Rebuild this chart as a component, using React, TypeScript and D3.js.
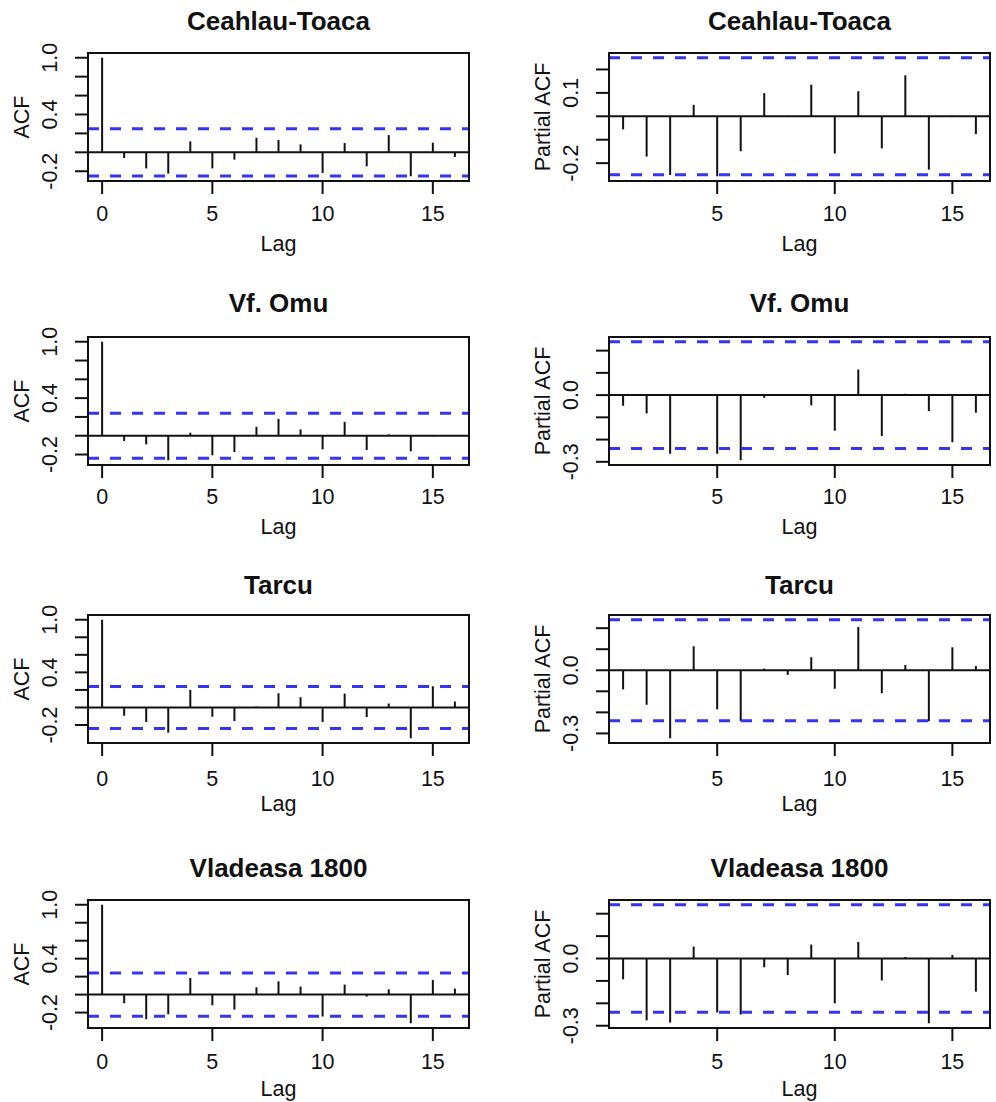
import * as d3 from 'd3';
import { useEffect, useRef } from 'react';

const WIDTH = 996, HEIGHT = 1102;

const stations = ['Ceahlau-Toaca', 'Vf. Omu', 'Tarcu', 'Vladeasa 1800'];

// ACF, lags 0..16
const acfCeahlau = [1.0, -0.06, -0.17, -0.225, 0.116, -0.17, -0.077, 0.154, 0.13, 0.084, -0.218, 0.098, -0.147, 0.182, -0.253, 0.102, -0.049];
const acfOmu = [1.0, -0.057, -0.092, -0.261, 0.032, -0.208, -0.173, 0.095, 0.18, 0.067, -0.145, 0.148, -0.152, 0.014, -0.166, -0.005, 0.003];
const acfTarcu = [1.0, -0.094, -0.166, -0.287, 0.2, -0.106, -0.155, 0.01, 0.162, 0.117, -0.166, 0.158, -0.109, 0.045, -0.351, 0.242, 0.068];
const acfVladeasa = [1.0, -0.096, -0.274, -0.219, 0.185, -0.119, -0.167, 0.081, 0.148, 0.089, -0.244, 0.111, -0.022, 0.059, -0.319, 0.163, 0.067];

// PACF, lags 1..16
const pacfCeahlau = [-0.056, -0.172, -0.251, 0.049, -0.256, -0.149, 0.099, 0.002, 0.135, -0.159, 0.107, -0.137, 0.175, -0.228, 0.003, -0.076];
const pacfOmu = [-0.048, -0.082, -0.264, -0.004, -0.264, -0.293, -0.012, -0.002, -0.046, -0.16, 0.115, -0.184, 0.006, -0.072, -0.212, -0.079];
const pacfTarcu = [-0.091, -0.164, -0.323, 0.114, -0.186, -0.242, 0.008, -0.022, 0.062, -0.088, 0.206, -0.109, 0.025, -0.242, 0.109, 0.02];
const pacfVladeasa = [-0.093, -0.276, -0.286, 0.053, -0.241, -0.25, -0.039, -0.074, 0.062, -0.2, 0.074, -0.098, 0.007, -0.289, 0.016, -0.148];

const acfSeries = [acfCeahlau, acfOmu, acfTarcu, acfVladeasa];
const pacfSeries = [pacfCeahlau, pacfOmu, pacfTarcu, pacfVladeasa];

// significance bounds (blue dashed)
const confLimits = [0.25, 0.24, 0.24, 0.24];

const lagTicks = [0, 5, 10, 15];
const acfTicks = [-0.2, 0, 0.2, 0.4, 0.6, 0.8, 1.0];
const acfLabels = [-0.2, 0.4, 1.0];
const pacfTicksFirst = [-0.2, -0.1, 0, 0.1, 0.2];
const pacfLabelsFirst = [-0.2, 0.1];
const pacfTicks = [-0.3, -0.2, -0.1, 0, 0.1, 0.2];
const pacfLabels = [-0.3, 0.0];

// layout
const ACF_LEFT = 88, PACF_LEFT = 609, BOX_W = 381, BOX_H = 128;
const rowTop = [53, 337, 615, 900];
const titleY = [21, 303, 585, 868];
const tickLabelY = [213, 496, 778, 1061];
const lagLabelY = [243, 526, 803, 1088];

const FONT = '"Liberation Sans", Arial, Helvetica, sans-serif';
const INK = '#111';
const BLUE = '#3434f2';

const drawPanel = (svg, opts) => {
    const { left, top, row, values, startLag, clim, ticks, labels, yLabel, title } = opts;
    const xPad = 0.04 * (16 - startLag);
    const x = d3.scaleLinear().domain([startLag - xPad, 16 + xPad]).range([left, left + BOX_W]);

    const lo = Math.min(-clim, d3.min(values));
    const hi = Math.max(clim, d3.max(values));
    const yPad = 0.04 * (hi - lo);
    const y = d3.scaleLinear().domain([lo - yPad, hi + yPad]).range([top + BOX_H, top]);

    const g = svg.append('g').attr('class', 'panel');

    // lag bars
    g.selectAll('line.bar')
        .data(values)
        .enter()
        .append('line')
        .attr('class', 'bar')
        .attr('x1', (d, i) => x(i + startLag))
        .attr('x2', (d, i) => x(i + startLag))
        .attr('y1', y(0))
        .attr('y2', d => y(d))
        .attr('stroke', INK)
        .attr('stroke-width', 2);

    // zero line
    g.append('line')
        .attr('x1', left).attr('x2', left + BOX_W)
        .attr('y1', y(0)).attr('y2', y(0))
        .attr('stroke', INK).attr('stroke-width', 2);

    // confidence bounds
    g.selectAll('line.conf')
        .data([clim, -clim])
        .enter()
        .append('line')
        .attr('class', 'conf')
        .attr('x1', left).attr('x2', left + BOX_W)
        .attr('y1', d => y(d)).attr('y2', d => y(d))
        .attr('stroke', BLUE).attr('stroke-width', 3)
        .attr('stroke-dasharray', '11 11');

    // box
    g.append('rect')
        .attr('x', left).attr('y', top)
        .attr('width', BOX_W).attr('height', BOX_H)
        .attr('fill', 'none').attr('stroke', INK).attr('stroke-width', 2);

    // x axis
    const xt = lagTicks.filter(t => t >= x.domain()[0] && t <= x.domain()[1]);
    g.selectAll('line.xtick')
        .data(xt)
        .enter()
        .append('line')
        .attr('x1', d => x(d)).attr('x2', d => x(d))
        .attr('y1', top + BOX_H).attr('y2', top + BOX_H + 13)
        .attr('stroke', INK).attr('stroke-width', 2);
    g.selectAll('text.xlab')
        .data(xt)
        .enter()
        .append('text')
        .attr('x', d => x(d)).attr('y', tickLabelY[row])
        .attr('dy', '0.36em')
        .attr('text-anchor', 'middle')
        .attr('font-size', 21.5)
        .attr('fill', INK)
        .text(d => String(d));
    g.append('text')
        .attr('x', left + BOX_W / 2).attr('y', lagLabelY[row])
        .attr('dy', '0.36em')
        .attr('text-anchor', 'middle')
        .attr('font-size', 21.5)
        .attr('fill', INK)
        .text('Lag');

    // y axis
    g.selectAll('line.ytick')
        .data(ticks)
        .enter()
        .append('line')
        .attr('x1', left - 13).attr('x2', left)
        .attr('y1', d => y(d)).attr('y2', d => y(d))
        .attr('stroke', INK).attr('stroke-width', 2);
    g.selectAll('text.ylab')
        .data(labels)
        .enter()
        .append('text')
        .attr('transform', d => `translate(${left - 39},${y(d)}) rotate(-90)`)
        .attr('dy', '0.36em')
        .attr('text-anchor', 'middle')
        .attr('font-size', 21.5)
        .attr('fill', INK)
        .text(d => d.toFixed(1));
    g.append('text')
        .attr('transform', `translate(${left - 67},${top + BOX_H / 2}) rotate(-90)`)
        .attr('dy', '0.36em')
        .attr('text-anchor', 'middle')
        .attr('font-size', 21.5)
        .attr('fill', INK)
        .text(yLabel);

    // title
    g.append('text')
        .attr('x', left + BOX_W / 2).attr('y', titleY[row])
        .attr('dy', '0.36em')
        .attr('text-anchor', 'middle')
        .attr('font-size', 26)
        .attr('font-weight', 'bold')
        .attr('fill', INK)
        .text(title);
};

const App = () => {
    const ref = useRef(null);

    useEffect(() => {
        const svg = d3.select(ref.current);
        svg.selectAll('*').remove();
        svg.append('rect').attr('width', WIDTH).attr('height', HEIGHT).attr('fill', '#fff');

        stations.forEach((name, row) => {
            drawPanel(svg, {
                left: ACF_LEFT, top: rowTop[row], row,
                values: acfSeries[row], startLag: 0, clim: confLimits[row],
                ticks: acfTicks, labels: acfLabels, yLabel: 'ACF', title: name,
            });
            drawPanel(svg, {
                left: PACF_LEFT, top: rowTop[row], row,
                values: pacfSeries[row], startLag: 1, clim: confLimits[row],
                ticks: row === 0 ? pacfTicksFirst : pacfTicks,
                labels: row === 0 ? pacfLabelsFirst : pacfLabels,
                yLabel: 'Partial ACF', title: name,
            });
        });
    }, []);

    return (
        <svg
            ref={ref}
            width={WIDTH}
            height={HEIGHT}
            style={{ position: 'absolute', left: 0, top: 0, fontFamily: FONT }}
        />
    );
};

export default App;
